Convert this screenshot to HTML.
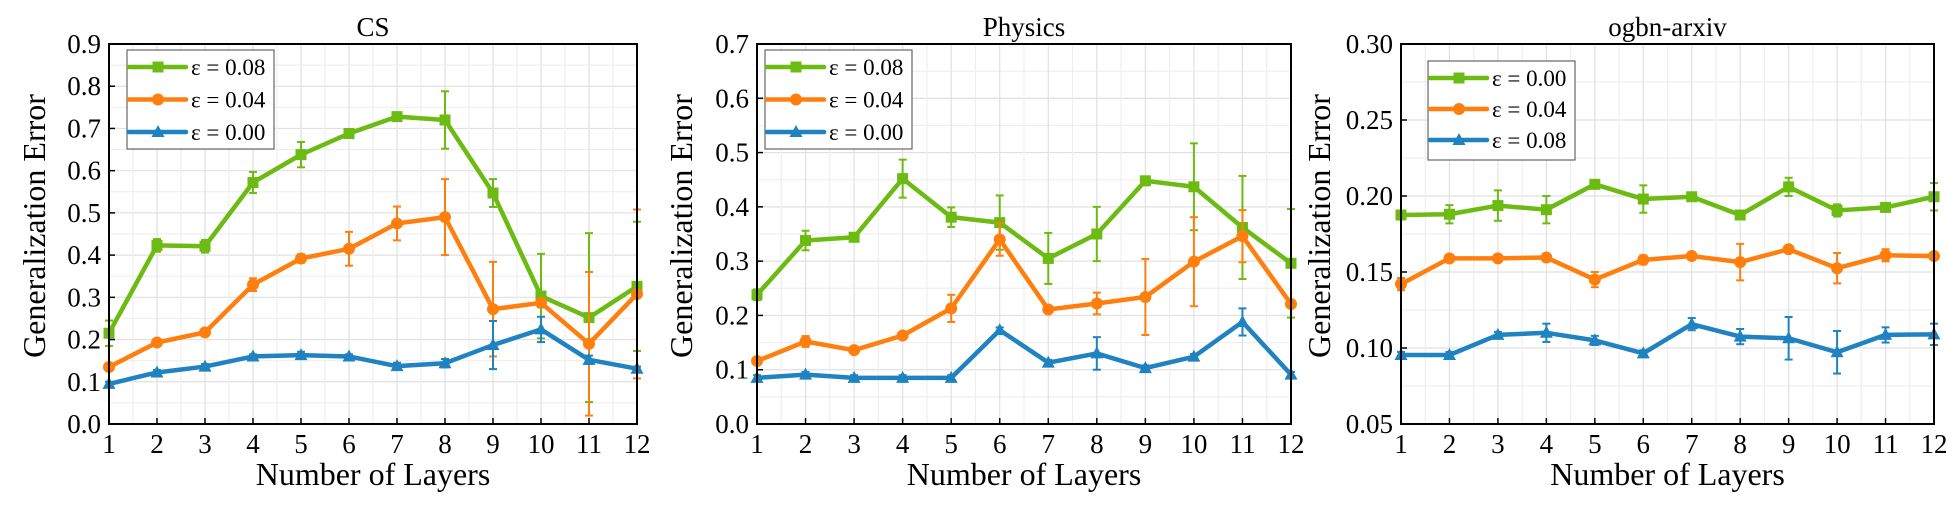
<!DOCTYPE html>
<html><head><meta charset="utf-8"><style>
html,body{margin:0;padding:0;background:#fff;}
svg{display:block;}
svg text{font-family:"Liberation Serif","Times New Roman",serif;}
</style></head><body>
<svg id="fig" width="1952" height="506" viewBox="0 0 1952 506" xmlns="http://www.w3.org/2000/svg" font-family="Liberation Serif, serif"></svg>
<script>
const layers=[1,2,3,4,5,6,7,8,9,10,11,12];
// CS
const csTicks=["0.0","0.1","0.2","0.3","0.4","0.5","0.6","0.7","0.8","0.9"];
const csG=[0.215,0.423,0.421,0.572,0.638,0.688,0.728,0.72,0.547,0.303,0.252,0.326];
const csGe=[0.03,0.015,0.015,0.025,0.03,0.01,0.005,0.068,0.033,0.1,0.2,0.153];
const csO=[0.135,0.193,0.217,0.33,0.392,0.415,0.475,0.49,0.272,0.287,0.19,0.308];
const csOe=[0.005,0.005,0.005,0.015,0.01,0.04,0.04,0.09,0.112,0.01,0.17,0.2];
const csB=[0.095,0.122,0.136,0.16,0.163,0.16,0.137,0.144,0.187,0.224,0.152,0.131];
const csBe=[0.005,0.006,0.006,0.005,0.008,0.005,0.008,0.01,0.057,0.03,0.01,0.005];
// Physics
const phTicks=["0.0","0.1","0.2","0.3","0.4","0.5","0.6","0.7"];
const phG=[0.238,0.338,0.344,0.452,0.381,0.371,0.305,0.35,0.448,0.437,0.362,0.296];
const phGe=[0.01,0.018,0.005,0.035,0.018,0.05,0.047,0.05,0.005,0.08,0.095,0.1];
const phO=[0.116,0.152,0.136,0.163,0.213,0.34,0.211,0.222,0.234,0.299,0.346,0.221];
const phOe=[0.005,0.01,0.005,0.005,0.025,0.03,0.005,0.02,0.07,0.082,0.048,0.005];
const phB=[0.085,0.091,0.085,0.085,0.085,0.173,0.113,0.13,0.103,0.124,0.188,0.091];
const phBe=[0.005,0.005,0.005,0.005,0.005,0.005,0.005,0.03,0.005,0.005,0.025,0.005];
// ogbn-arxiv
const obTicks=["0.05","0.10","0.15","0.20","0.25","0.30"];
const obG=[0.1875,0.188,0.1937,0.191,0.2077,0.198,0.1995,0.1875,0.206,0.1905,0.1925,0.1995];
const obGe=[0.002,0.006,0.01,0.009,0.002,0.009,0.002,0.002,0.006,0.004,0.002,0.009];
const obO=[0.142,0.159,0.159,0.1595,0.145,0.158,0.1605,0.1565,0.165,0.1525,0.161,0.1605];
const obOe=[0.004,0.002,0.002,0.002,0.005,0.003,0.002,0.012,0.002,0.01,0.004,0.002];
const obB=[0.0954,0.0954,0.1086,0.11,0.105,0.0965,0.1157,0.1075,0.1064,0.0972,0.1086,0.109];
const obBe=[0.002,0.002,0.002,0.006,0.003,0.002,0.004,0.005,0.014,0.014,0.005,0.007];

const GREEN="#6cbb12",ORANGE="#ff7f0e",BLUE="#1f82c1";
const FONT='"Liberation Serif", serif';
const NS="http://www.w3.org/2000/svg";
const svg=document.getElementById('fig');
function mk(tag,attrs,parent){const e=document.createElementNS(NS,tag);for(const k in attrs)e.setAttribute(k,attrs[k]);if(tag==='text')e.setAttribute('font-family',FONT);(parent||svg).appendChild(e);return e;}

function marker(g,shape,x,y,c){
  let m;
  if(shape==='sq') m=mk('rect',{x:x-5.5,y:y-5.5,width:11,height:11,fill:c},g);
  else if(shape==='ci') m=mk('circle',{cx:x,cy:y,r:6,fill:c},g);
  else m=mk('polygon',{points:`${x},${y-7} ${x+6.5},${y+5} ${x-6.5},${y+5}`,fill:c},g);
  return m;
}

function panel(p){
  const g=mk('g',{});
  
  
  const {x0,x1,y0,y1,ymin,ymax}=p;
  const X=v=>x0+(v-1)/(11)*(x1-x0);
  const Y=v=>y1-(v-ymin)/(ymax-ymin)*(y1-y0);
  const n=p.ticks.length-1;
  const grid=mk('g',{},g);
  
  
  for(let i=0;i<=2*n;i++){const y=y1-i*(y1-y0)/(2*n);mk('line',{x1:x0,x2:x1,y1:y,y2:y,stroke:i%2?'#efefef':'#e0e0e0','stroke-width':1.2},grid);}
  for(let i=0;i<=22;i++){const x=x0+i*(x1-x0)/22;mk('line',{x1:x,x2:x,y1:y0,y2:y1,stroke:i%2?'#efefef':'#e0e0e0','stroke-width':1.2},grid);}
  p.ticks.forEach((t,i)=>{
    const v=ymin+i*(ymax-ymin)/n,y=Y(v);
    mk('line',{x1:x0,x2:x0+6,y1:y,y2:y,stroke:'#000','stroke-width':1.5},g);
    const tx=mk('text',{x:x0-8,y:y+9,'text-anchor':'end','font-size':27},g);
    tx.textContent=t;
    
    
  });
  layers.forEach(l=>{
    const x=X(l);
    mk('line',{x1:x,x2:x,y1:y1,y2:y1-6,stroke:'#000','stroke-width':1.5},g);
    const tx=mk('text',{x:x,y:y1+29,'text-anchor':'middle','font-size':27},g);
    tx.textContent=l;
    
    
  });
  p.series.forEach(s=>{
    const sg=mk('g',{},g);
    
    
    s.v.forEach((v,i)=>{
      const x=X(layers[i]),a=Y(v+s.e[i]),b=Y(v-s.e[i]);
      mk('line',{x1:x,x2:x,y1:a,y2:b,stroke:s.c,'stroke-width':2},sg);
      mk('line',{x1:x-4,x2:x+4,y1:a,y2:a,stroke:s.c,'stroke-width':2},sg);
      mk('line',{x1:x-4,x2:x+4,y1:b,y2:b,stroke:s.c,'stroke-width':2},sg);
    });
    const pl=mk('polyline',{points:s.v.map((v,i)=>X(layers[i])+','+Y(v)).join(' '),fill:'none',stroke:s.c,'stroke-width':4.5,'stroke-linejoin':'round'},sg);
    
    
    s.v.forEach((v,i)=>{
      const m=marker(sg,s.m,X(layers[i]),Y(v),s.c);
      
      
    });
  });
  mk('rect',{x:x0,y:y0,width:x1-x0,height:y1-y0,fill:'none',stroke:'#000','stroke-width':2},g);
  const lg=mk('g',{},g);
  
  
  const L=p.leg;
  mk('rect',{x:L.x,y:L.y,width:147,height:99,fill:'#fff',stroke:'#666','stroke-width':1.2},lg);
  p.series.forEach((s,i)=>{
    const y=L.y+17+i*L.dy;
    const e=mk('g',{},lg);
    
    
    mk('line',{x1:L.x+2,x2:L.x+59,y1:y,y2:y,stroke:s.c,'stroke-width':4.5,'stroke-linecap':'round'},e);
    marker(e,s.m,L.x+31,y,s.c);
    const t=mk('text',{x:L.x+64,y:y+8,'font-size':23},e);
    t.textContent=s.label;
  });
  const tt=mk('text',{x:(x0+x1)/2,y:36,'text-anchor':'middle','font-size':27},g);
  tt.textContent=p.title;
  
  
  const xl=mk('text',{x:(x0+x1)/2,y:485,'text-anchor':'middle','font-size':32},g);
  xl.textContent='Number of Layers';
  
  
  const yx=p.ylx,yc=226;
  const yl=mk('text',{x:yx,y:yc,'text-anchor':'middle','font-size':32,transform:`rotate(-90 ${yx} ${yc})`},g);
  yl.textContent='Generalization Error';
  
  
}

panel({name:'cs',title:'CS',x0:109,x1:637,y0:44,y1:424,ymin:0,ymax:0.9,ticks:csTicks,ylx:45,
  leg:{x:127,y:50,dy:32.5},
  series:[{key:'eps-0.08',label:'ε = 0.08',c:GREEN,m:'sq',v:csG,e:csGe},
          {key:'eps-0.04',label:'ε = 0.04',c:ORANGE,m:'ci',v:csO,e:csOe},
          {key:'eps-0.00',label:'ε = 0.00',c:BLUE,m:'tr',v:csB,e:csBe}]});
panel({name:'physics',title:'Physics',x0:757,x1:1291,y0:44,y1:424,ymin:0,ymax:0.7,ticks:phTicks,ylx:692,
  leg:{x:765,y:50,dy:32.5},
  series:[{key:'eps-0.08',label:'ε = 0.08',c:GREEN,m:'sq',v:phG,e:phGe},
          {key:'eps-0.04',label:'ε = 0.04',c:ORANGE,m:'ci',v:phO,e:phOe},
          {key:'eps-0.00',label:'ε = 0.00',c:BLUE,m:'tr',v:phB,e:phBe}]});
panel({name:'ogbn-arxiv',title:'ogbn-arxiv',x0:1401,x1:1934,y0:44,y1:424,ymin:0.05,ymax:0.30,ticks:obTicks,ylx:1330,
  leg:{x:1428,y:61,dy:31},
  series:[{key:'eps-0.00',label:'ε = 0.00',c:GREEN,m:'sq',v:obG,e:obGe},
          {key:'eps-0.04',label:'ε = 0.04',c:ORANGE,m:'ci',v:obO,e:obOe},
          {key:'eps-0.08',label:'ε = 0.08',c:BLUE,m:'tr',v:obB,e:obBe}]});
</script>
</body></html>
